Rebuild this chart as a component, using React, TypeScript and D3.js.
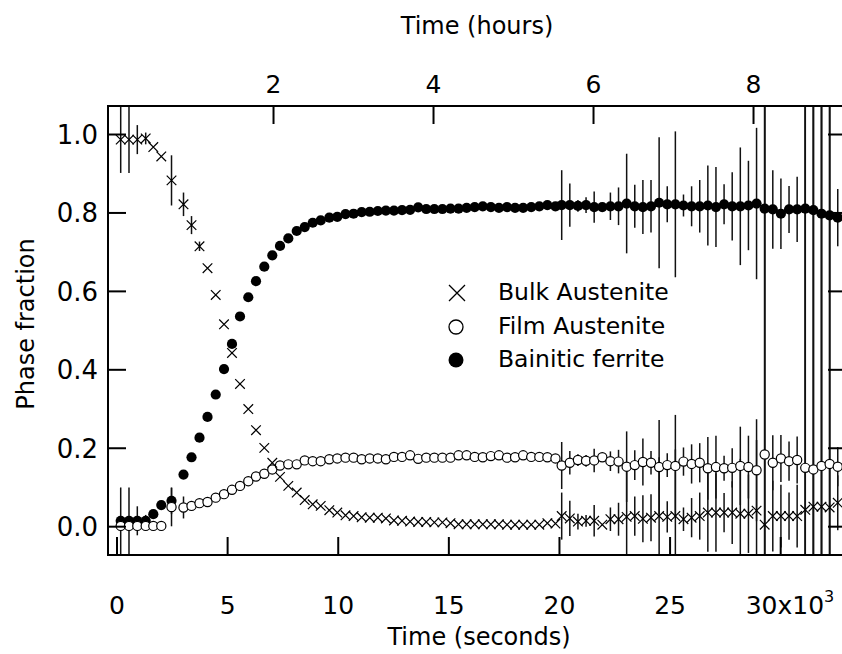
import React from "react";
import * as d3 from "d3";

// Sample times (seconds)
const TIME_S = [
  167, 542, 918, 1297, 1641, 2002, 2464,
  3006, 3368, 3729, 4091, 4462, 4837, 5198, 5560, 5935, 6283, 6658, 7020, 7368, 7743, 8123, 8485, 8846, 9208, 9597, 9958, 10329,
  10694, 11059, 11424, 11789, 12154, 12519, 12884, 13249, 13614, 13979, 14344, 14709, 15074, 15439, 15804, 16169, 16534, 16899, 17264, 17629, 17994, 18359, 18724, 19089, 19454, 19819,
  20101, 20468, 20835, 21202, 21569, 21936, 22303, 22670, 23037, 23404, 23771, 24138, 24505, 24872, 25239, 25606, 25973, 26340, 26707, 27074, 27441, 27808, 28175, 28542, 28909, 29276, 29643, 30010, 30377, 30744, 31111, 31478, 31845, 32212, 32579,
];

const BULK = [
  0.987, 0.987, 0.987, 0.99, 0.968, 0.944, 0.883,
  0.822, 0.769, 0.715, 0.659, 0.591, 0.516, 0.443, 0.364, 0.3, 0.246, 0.201, 0.163, 0.127, 0.104, 0.087, 0.068, 0.057, 0.053, 0.042, 0.036, 0.029,
  0.027, 0.024, 0.023, 0.023, 0.021, 0.016, 0.015, 0.013, 0.012, 0.012, 0.011, 0.011, 0.009, 0.006, 0.006, 0.006, 0.006, 0.006, 0.006, 0.005, 0.005, 0.005, 0.005, 0.005, 0.009, 0.008,
  0.027, 0.021, 0.013, 0.015, 0.015, 0.005, 0.019, 0.019, 0.025, 0.027, 0.02, 0.023, 0.027, 0.025, 0.027, 0.019, 0.023, 0.027, 0.036, 0.036, 0.036, 0.036, 0.033, 0.033, 0.041, 0.005, 0.027, 0.027, 0.027, 0.027, 0.043, 0.051, 0.051, 0.049, 0.061,
];
const BULK_ERR = [
  0.085, 0.085, 0.037, 0.015, 0, 0, 0.064,
  0.03, 0.023, 0.012, 0, 0, 0, 0, 0, 0, 0, 0, 0, 0, 0, 0, 0, 0, 0, 0, 0, 0,
  0, 0, 0, 0, 0, 0, 0, 0, 0, 0, 0, 0, 0, 0, 0, 0, 0, 0, 0, 0, 0, 0, 0, 0, 0, 0,
  0.06, 0.045, 0.02, 0.015, 0.04, 0, 0.03, 0.042, 0.12, 0.05, 0.06, 0.06, 0.15, 0.04, 0.17, 0.03, 0.05, 0.06, 0.1, 0.1, 0.05, 0.08, 0.14, 0.1, 0.18, 1.5, 0.09, 0.08, 0.06, 0.08, 1.5, 1.5, 1.5, 1.5, 0.07,
];

const FILM = [
  0.002, 0.002, 0.002, 0.002, 0.002, 0.002, 0.05,
  0.049, 0.053, 0.06, 0.063, 0.074, 0.083, 0.094, 0.104, 0.116, 0.128, 0.135, 0.146, 0.156, 0.159, 0.159, 0.169, 0.167, 0.167, 0.172, 0.174, 0.176,
  0.176, 0.172, 0.174, 0.174, 0.172, 0.178, 0.178, 0.182, 0.173, 0.176, 0.176, 0.176, 0.176, 0.182, 0.182, 0.178, 0.177, 0.18, 0.182, 0.176, 0.177, 0.182, 0.178, 0.178, 0.177, 0.174,
  0.156, 0.163, 0.17, 0.168, 0.169, 0.177, 0.167, 0.166, 0.153, 0.157, 0.165, 0.163, 0.152, 0.157, 0.155, 0.166, 0.16, 0.163, 0.149, 0.152, 0.149, 0.15, 0.155, 0.152, 0.144, 0.184, 0.163, 0.174, 0.167, 0.17, 0.15, 0.146, 0.155, 0.16, 0.153,
];
const FILM_ERR = [
  0, 0, 0, 0, 0, 0, 0.049,
  0.028, 0, 0, 0, 0, 0, 0, 0, 0, 0, 0, 0, 0, 0, 0, 0, 0, 0, 0, 0, 0,
  0, 0, 0, 0, 0, 0, 0, 0, 0, 0, 0, 0, 0, 0, 0, 0, 0, 0, 0, 0, 0, 0, 0, 0, 0, 0,
  0.06, 0.03, 0.015, 0.015, 0.03, 0, 0.025, 0.03, 0.09, 0.038, 0.06, 0.03, 0.12, 0.03, 0.13, 0.036, 0.05, 0.05, 0.08, 0.08, 0.032, 0.05, 0.1, 0.08, 0.13, 1.5, 0.07, 0.06, 0.05, 0.06, 1.5, 1.5, 1.5, 1.5, 0.05,
];

const FERRITE = [
  0.015, 0.015, 0.015, 0.015, 0.032, 0.055, 0.066,
  0.133, 0.177, 0.227, 0.28, 0.337, 0.402, 0.466, 0.536, 0.585, 0.626, 0.663, 0.692, 0.716, 0.735, 0.754, 0.764, 0.775, 0.781, 0.788, 0.79, 0.797,
  0.798, 0.802, 0.803, 0.805, 0.806, 0.806, 0.807, 0.808, 0.814, 0.81, 0.81, 0.81, 0.811, 0.811, 0.813, 0.815, 0.817, 0.815, 0.813, 0.815, 0.813, 0.813, 0.815, 0.817, 0.82, 0.817,
  0.82, 0.82, 0.818, 0.82, 0.815, 0.815, 0.817, 0.817, 0.824, 0.817, 0.815, 0.817, 0.826, 0.822, 0.822, 0.819, 0.817, 0.817, 0.819, 0.815, 0.822, 0.817, 0.817, 0.819, 0.824, 0.811, 0.809, 0.798, 0.809, 0.809, 0.811, 0.807, 0.798, 0.794, 0.788,
];
const FERRITE_ERR = [
  0.085, 0.085, 0.037, 0.015, 0, 0, 0.034,
  0, 0, 0, 0, 0, 0, 0, 0, 0, 0, 0, 0, 0, 0, 0, 0, 0, 0, 0, 0, 0,
  0, 0, 0, 0, 0, 0, 0, 0, 0, 0, 0, 0, 0, 0, 0, 0, 0, 0, 0, 0, 0, 0, 0, 0, 0, 0,
  0.089, 0.055, 0.015, 0.02, 0.04, 0, 0.035, 0.048, 0.127, 0.055, 0.069, 0.067, 0.167, 0.046, 0.186, 0.028, 0.051, 0.067, 0.102, 0.102, 0.051, 0.087, 0.15, 0.114, 0.193, 1.5, 0.1, 0.09, 0.06, 0.083, 1.5, 1.5, 1.5, 1.5, 0.073,
];

const SEC_TICKS = [0, 5000, 10000, 15000, 20000, 25000, 30000];
const SEC_TICK_LABELS = ["0", "5", "10", "15", "20", "25", "30x10"];
const HOUR_TICKS = [2, 4, 6, 8];
const Y_TICKS = [0, 0.2, 0.4, 0.6, 0.8, 1.0];
const LEGEND_LABELS = ["Bulk Austenite", "Film Austenite", "Bainitic ferrite"];

const W = 842;
const H = 654;
const L = 108, R = 846, T = 106, B = 555;
const FONT = "'DejaVu Sans', sans-serif";

export default function App() {
  const x = d3.scaleLinear().domain([-407, 32952]).range([L, R]);
  const xh = d3.scaleLinear().domain([-0.069, 9.156]).range([L, R]);
  const y = d3.scaleLinear().domain([-0.0722, 1.0727]).range([B, T]);
  const fmt = d3.format(".1f");
  const TL = 18;

  const errBars = (vals: number[], errs: number[], key: string) =>
    vals.map((v, i) =>
      errs[i] > 0 ? (
        <line
          key={key + i}
          x1={x(TIME_S[i])}
          x2={x(TIME_S[i])}
          y1={y(v + errs[i])}
          y2={y(v - errs[i])}
          stroke="#111"
          strokeWidth={1.5}
        />
      ) : null
    );

  const crossPath = (s: number) => `M${-s},${-s}L${s},${s}M${-s},${s}L${s},${-s}`;

  return (
    <svg
      width={W}
      height={H}
      style={{ position: "absolute", left: 0, top: 0, background: "#fff" }}
      fontFamily={FONT}
    >
      <defs>
        <clipPath id="plot">
          <rect x={L} y={T} width={R - L} height={B - T} />
        </clipPath>
      </defs>
      <rect width={W} height={H} fill="#fff" />

      <g clipPath="url(#plot)">
        {errBars(FERRITE, FERRITE_ERR, "fe")}
        {errBars(FILM, FILM_ERR, "fie")}
        {errBars(BULK, BULK_ERR, "be")}
        {FERRITE.map((v, i) => (
          <circle key={"f" + i} cx={x(TIME_S[i])} cy={y(v)} r={5.1} fill="#000" />
        ))}
        {FILM.map((v, i) => (
          <circle key={"fi" + i} cx={x(TIME_S[i])} cy={y(v)} r={4.6} fill="#fff" stroke="#000" strokeWidth={1.2} />
        ))}
        {BULK.map((v, i) => (
          <path key={"b" + i} d={crossPath(4.8)} transform={`translate(${x(TIME_S[i])},${y(v)})`} stroke="#000" strokeWidth={1.2} fill="none" />
        ))}
      </g>

      {/* frame */}
      <g stroke="#000" strokeWidth={2} fill="none">
        <line x1={L} x2={L} y1={T - 1} y2={B + 1} />
        <line x1={R} x2={R} y1={T - 1} y2={B + 1} />
        <line x1={L - 1} x2={R + 1} y1={T} y2={T} />
        <line x1={L - 1} x2={R + 1} y1={B} y2={B} />
      </g>

      {/* left & right ticks */}
      {Y_TICKS.map((v) => (
        <g key={"yt" + v}>
          <line x1={L} x2={L + TL} y1={y(v)} y2={y(v)} stroke="#000" strokeWidth={2} />
          <line x1={R - TL} x2={R} y1={y(v)} y2={y(v)} stroke="#000" strokeWidth={2} />
          <text x={98} y={y(v)} dy="0.36em" textAnchor="end" fontSize={26} fill="#000">
            {fmt(v)}
          </text>
        </g>
      ))}

      {/* bottom ticks */}
      {SEC_TICKS.map((t, i) => (
        <g key={"xt" + t}>
          <line x1={x(t)} x2={x(t)} y1={B} y2={B - TL} stroke="#000" strokeWidth={2} />
          {i < SEC_TICKS.length - 1 ? (
            <text x={x(t)} y={614} textAnchor="middle" fontSize={25} fill="#000">
              {SEC_TICK_LABELS[i]}
            </text>
          ) : (
            <text x={x(t) - 35} y={614} textAnchor="start" fontSize={25} fill="#000">
              {SEC_TICK_LABELS[i]}
              <tspan dy={-12} fontSize={16}>3</tspan>
            </text>
          )}
        </g>
      ))}

      {/* top ticks */}
      {HOUR_TICKS.map((h) => (
        <g key={"ht" + h}>
          <line x1={xh(h)} x2={xh(h)} y1={T} y2={T + TL} stroke="#000" strokeWidth={2} />
          <text x={xh(h)} y={93} textAnchor="middle" fontSize={25} fill="#000">
            {h}
          </text>
        </g>
      ))}

      {/* axis titles */}
      <text x={477} y={34} textAnchor="middle" fontSize={24} fill="#000">
        Time (hours)
      </text>
      <text x={479} y={645} textAnchor="middle" fontSize={24} fill="#000">
        Time (seconds)
      </text>
      <text
        transform={`translate(34,324) rotate(-90)`}
        textAnchor="middle"
        fontSize={24}
        fill="#000"
      >
        Phase fraction
      </text>

      {/* legend */}
      <g>
        <path d={crossPath(8)} transform="translate(457,293)" stroke="#000" strokeWidth={1.3} fill="none" />
        <text x={498} y={300} fontSize={23.5} fill="#000">{LEGEND_LABELS[0]}</text>
        <circle cx={456} cy={327} r={7} fill="#fff" stroke="#000" strokeWidth={1.3} />
        <text x={498} y={334} fontSize={23.5} fill="#000">{LEGEND_LABELS[1]}</text>
        <circle cx={456} cy={360} r={7.5} fill="#000" />
        <text x={498} y={367} fontSize={23.5} fill="#000">{LEGEND_LABELS[2]}</text>
      </g>
    </svg>
  );
}
